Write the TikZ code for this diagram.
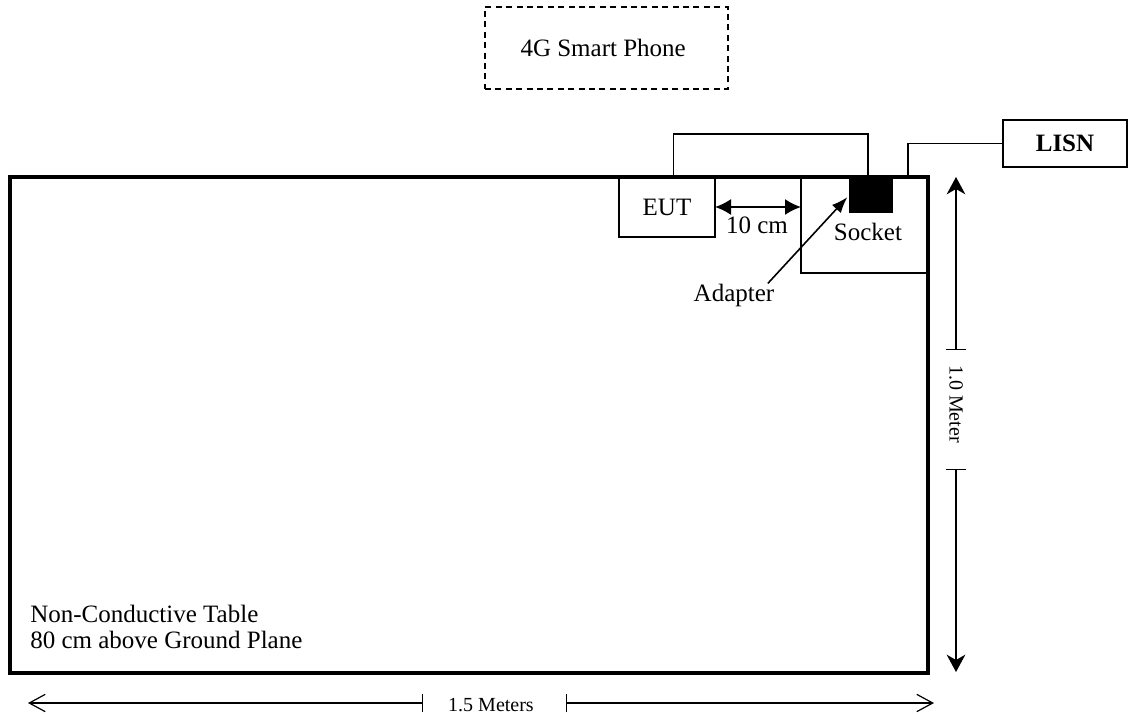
\documentclass[tikz,border=0pt]{standalone}
\usepackage{fontspec}
\setmainfont{Liberation Serif}
\usetikzlibrary{positioning,arrows.meta}

\begin{document}
\begin{tikzpicture}[
  x=0.75pt, y=-0.75pt,
  every node/.style={font=\fontsize{18.75}{19.5}\selectfont, inner sep=0pt},
  box/.style={draw, line width=1.2pt, anchor=north west, outer sep=0pt, inner sep=0pt},
  small/.style={font=\fontsize{15}{18}\selectfont},
  wire/.style={line width=1.2pt},
  dimline/.style={line width=0.9pt},
  ptr/.style={line width=1.2pt, -{Latex[length=12pt,width=9pt]}}
]
\useasboundingbox (0,0) rectangle (1128,718);
% table and the things on it
\node[box, line width=2.5pt, minimum width=688.5pt, minimum height=372pt] (table) at (10,177) {};
\node[anchor=base west, align=left] (tabletxt) at (30,648) {Non-Conductive Table\\80 cm above Ground Plane};
\node[box, minimum width=72pt, minimum height=45pt] (eut) at (619,177) {EUT};
\node[box, minimum width=95.25pt, minimum height=72pt] (socket) at (801,177) {};
\node[anchor=base] (socketlbl) at (868,240) {Socket};
\node[box, fill=black, minimum width=31.5pt, minimum height=26.25pt] (adapter) at (850,177) {};
\node[box, minimum width=93pt, minimum height=35.25pt, font=\fontsize{18.75}{19.5}\selectfont\bfseries] (lisn) at (1003,120) {LISN};
\node[box, dash pattern=on 4.5pt off 3.3pt, minimum width=182.25pt, minimum height=61.5pt] (phone) at (485,7) {\hspace*{-5pt}4G Smart Phone};
% cables
\draw[wire] ([xshift=5pt]eut.north) -- ++(0,-43) -| ([xshift=-2.25pt]adapter.north);
\draw[wire] ([xshift=-15pt]socket.north east) |- (lisn.west);
% separation
\draw[line width=1.3pt, {Latex[length=12pt,width=12pt]}-{Latex[length=12pt,width=12pt]}] (eut.east) -- (eut.east -| socket.west);
\node[anchor=base] (tencm) at (757,233) {10 cm};
\node[anchor=base] (adapterlbl) at (734,301) {Adapter};
\draw[ptr] ([xshift=-5pt]adapterlbl.north east) -- ([xshift=-2pt,yshift=-2pt]adapter.west);
% dimensions
\coordinate (vtop) at (956,177);
\coordinate (vt1) at (956,350);
\coordinate (vt2) at (956,469);
\coordinate (vbot) at (956,672);
\node[small, rotate=-90] (meter) at (956,404) {1.0 Meter};
\draw[dimline, {Bar[width=15pt]}-{Stealth[length=13pt,width=14pt,inset=4pt]}] (vt1) -- (vtop);
\draw[dimline, {Bar[width=15pt]}-{Stealth[length=13pt,width=14pt,inset=4pt]}] (vt2) -- (vbot);
\coordinate (hleft) at (28,703);
\coordinate (ht1) at (423,703);
\coordinate (ht2) at (566,703);
\coordinate (hright) at (934,703);
\node[small, anchor=base] (meters) at (491,711) {1.5 Meters};
\draw[dimline, {Bar[width=14pt]}-{Straight Barb[length=12pt,width=13pt]}] (ht1) -- (hleft);
\draw[dimline, {Bar[width=14pt]}-{Straight Barb[length=12pt,width=13pt]}] (ht2) -- (hright);
\end{tikzpicture}
\end{document}
